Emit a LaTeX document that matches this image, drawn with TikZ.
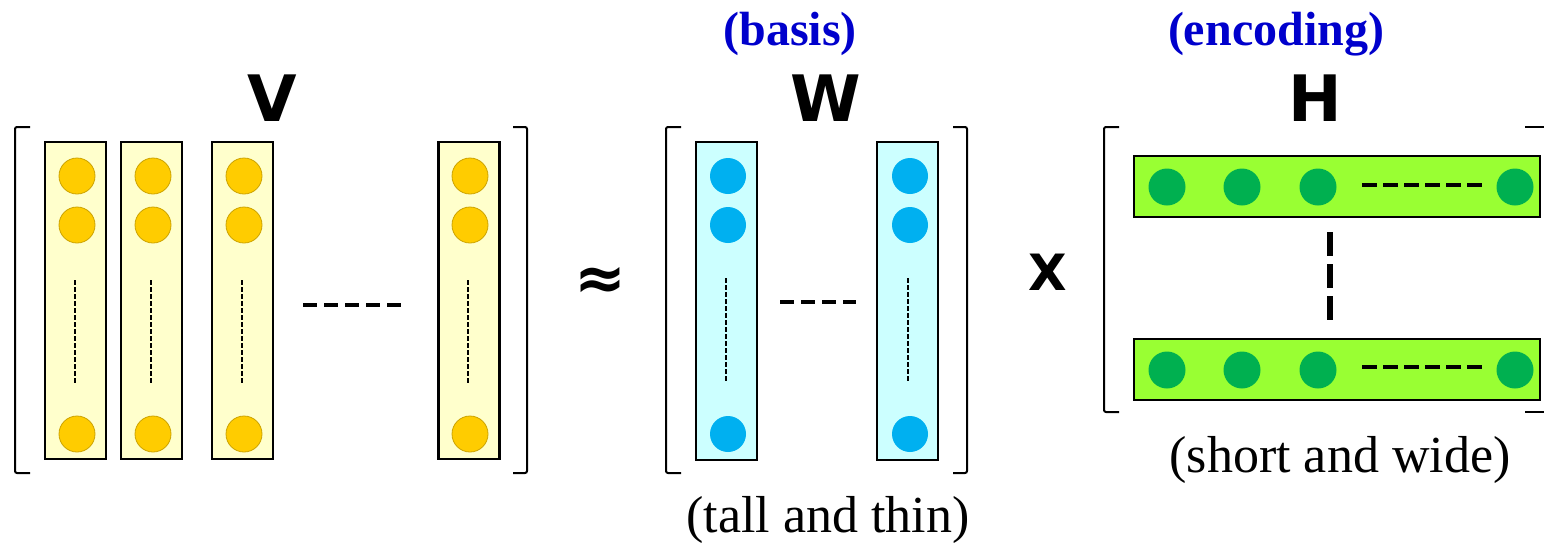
\documentclass[tikz,border=0pt]{standalone}
\usepackage{fontspec}
\setmainfont{Liberation Serif}
\newfontfamily\heavyfont{DejaVu Sans}
\usepackage{tikz}
\usetikzlibrary{positioning}
\usepackage{xcolor}
\definecolor{vfill}{RGB}{255,255,204}
\definecolor{vdotc}{RGB}{255,204,0}
\definecolor{wfill}{RGB}{204,255,255}
\definecolor{wdotc}{RGB}{0,176,240}
\definecolor{hfill}{RGB}{153,255,51}
\definecolor{hdotc}{RGB}{0,176,80}
\definecolor{tagblue}{RGB}{0,0,204}
\tikzstyle{vcol} = [rectangle, draw=black, line width=2.5pt, fill=vfill, minimum width=61pt, minimum height=317pt, inner sep=0pt]
\tikzstyle{wcol} = [rectangle, draw=black, line width=2.5pt, fill=wfill, minimum width=61pt, minimum height=318pt, inner sep=0pt]
\tikzstyle{hrow} = [rectangle, draw=black, line width=2.5pt, fill=hfill, minimum width=406pt, minimum height=61pt, inner sep=0pt]
\tikzstyle{vdot} = [circle, fill=vdotc, draw=vdotc!80!black, line width=0.8pt, minimum size=36pt, inner sep=0pt]
\tikzstyle{wdot} = [circle, fill=wdotc, minimum size=36pt, inner sep=0pt]
\tikzstyle{hdot} = [circle, fill=hdotc, minimum size=37pt, inner sep=0pt]
\tikzstyle{bracket} = [line width=2pt, rounded corners=2pt]
\tikzstyle{thindots} = [line width=1.8pt, dash pattern=on 4.5pt off 2.5pt]
\tikzstyle{thickdots} = [line width=4.5pt, dash pattern=on 14pt off 7pt]
\tikzstyle{bigletter} = [font=\heavyfont\bfseries\fontsize{64}{64}\selectfont, inner sep=0pt]
\tikzstyle{tag} = [font=\bfseries\fontsize{48}{52}\selectfont, text=tagblue, inner sep=0pt]
\tikzstyle{caption} = [font=\fontsize{52}{56}\selectfont, inner sep=0pt]

\begin{document}
\begin{tikzpicture}[x=1pt, y=-1pt]
\useasboundingbox (0,0) rectangle (1544,542);

% V
\node[bigletter] (vname) at (272,98) {V};
\draw[bracket] (30,127) -- (15,127) -- (15,473) -- (30,473);
\draw[bracket] (513,127) -- (527,127) -- (527,473) -- (513,473);
\node[vcol] (v1) at (75.5,300.5) {};
\node[vcol] (v2) at (151.5,300.5) {};
\node[vcol] (v3) at (242.5,300.5) {};
\node[vcol] (v4) at (469,300.5) {};
\node[vdot] (v1a) at (77,176) {}; \node[vdot] (v1b) at (77,225) {}; \node[vdot] (v1c) at (77,434) {};
\node[vdot] (v2a) at (153,176) {}; \node[vdot] (v2b) at (153,225) {}; \node[vdot] (v2c) at (153,434) {};
\node[vdot] (v3a) at (244,176) {}; \node[vdot] (v3b) at (244,225) {}; \node[vdot] (v3c) at (244,434) {};
\node[vdot] (v4a) at (470,176) {}; \node[vdot] (v4b) at (470,225) {}; \node[vdot] (v4c) at (470,434) {};
\draw[thindots] (75,280) -- (75,383);
\draw[thindots] (151,280) -- (151,383);
\draw[thindots] (242,280) -- (242,383);
\draw[thindots] (468,280) -- (468,383);
\draw[thickdots] (303,305) -- (404,305);

\node[font=\heavyfont\bfseries\fontsize{62}{62}\selectfont, inner sep=0pt] (approx) at (600,283) {≈};

% W
\node[tag] (basis) at (790,34) {(basis)};
\node[bigletter] (wname) at (826,98) {W};
\draw[bracket] (681,127) -- (666,127) -- (666,473) -- (681,473);
\draw[bracket] (953,127) -- (967,127) -- (967,473) -- (953,473);
\node[wcol] (w1) at (726.5,301) {};
\node[wcol] (w2) at (907.5,301) {};
\node[wdot] (w1a) at (728,176) {}; \node[wdot] (w1b) at (728,225) {}; \node[wdot] (w1c) at (728,434) {};
\node[wdot] (w2a) at (910,176) {}; \node[wdot] (w2b) at (910,225) {}; \node[wdot] (w2c) at (910,434) {};
\draw[thindots] (726,278) -- (726,383);
\draw[thindots] (908,278) -- (908,383);
\draw[thickdots] (780,302) -- (856,302);
\node[caption] (tallthin) at (828,520) {(tall and thin)};

\node[font=\heavyfont\bfseries\fontsize{50}{50}\selectfont, inner sep=0pt] (times) at (1048,272) {X};

% H
\node[tag] (encoding) at (1276,34) {(encoding)};
\node[bigletter] (hname) at (1315,98) {H};
\draw[bracket] (1119,127) -- (1104,127) -- (1104,412) -- (1119,412);
\draw[bracket] (1525,127) -- (1550,127);
\draw[bracket] (1525,412) -- (1550,412);
\node[hrow] (h1) at (1337,186.5) {};
\node[hrow] (h2) at (1337,369.5) {};
\node[hdot] (h1a) at (1167,187) {}; \node[hdot] (h1b) at (1242,187) {}; \node[hdot] (h1c) at (1318,187) {}; \node[hdot] (h1d) at (1515,187) {};
\node[hdot] (h2a) at (1167,370) {}; \node[hdot] (h2b) at (1242,370) {}; \node[hdot] (h2c) at (1318,370) {}; \node[hdot] (h2d) at (1515,370) {};
\draw[line width=4.5pt, dash pattern=on 15pt off 6pt] (1362,185) -- (1483,185);
\draw[line width=4.5pt, dash pattern=on 15pt off 6pt] (1362,367) -- (1483,367);
\draw[line width=6pt, dash pattern=on 24pt off 8pt] (1330,232) -- (1330,320);
\node[caption] (shortwide) at (1340,460) {(short and wide)};
\end{tikzpicture}
\end{document}
